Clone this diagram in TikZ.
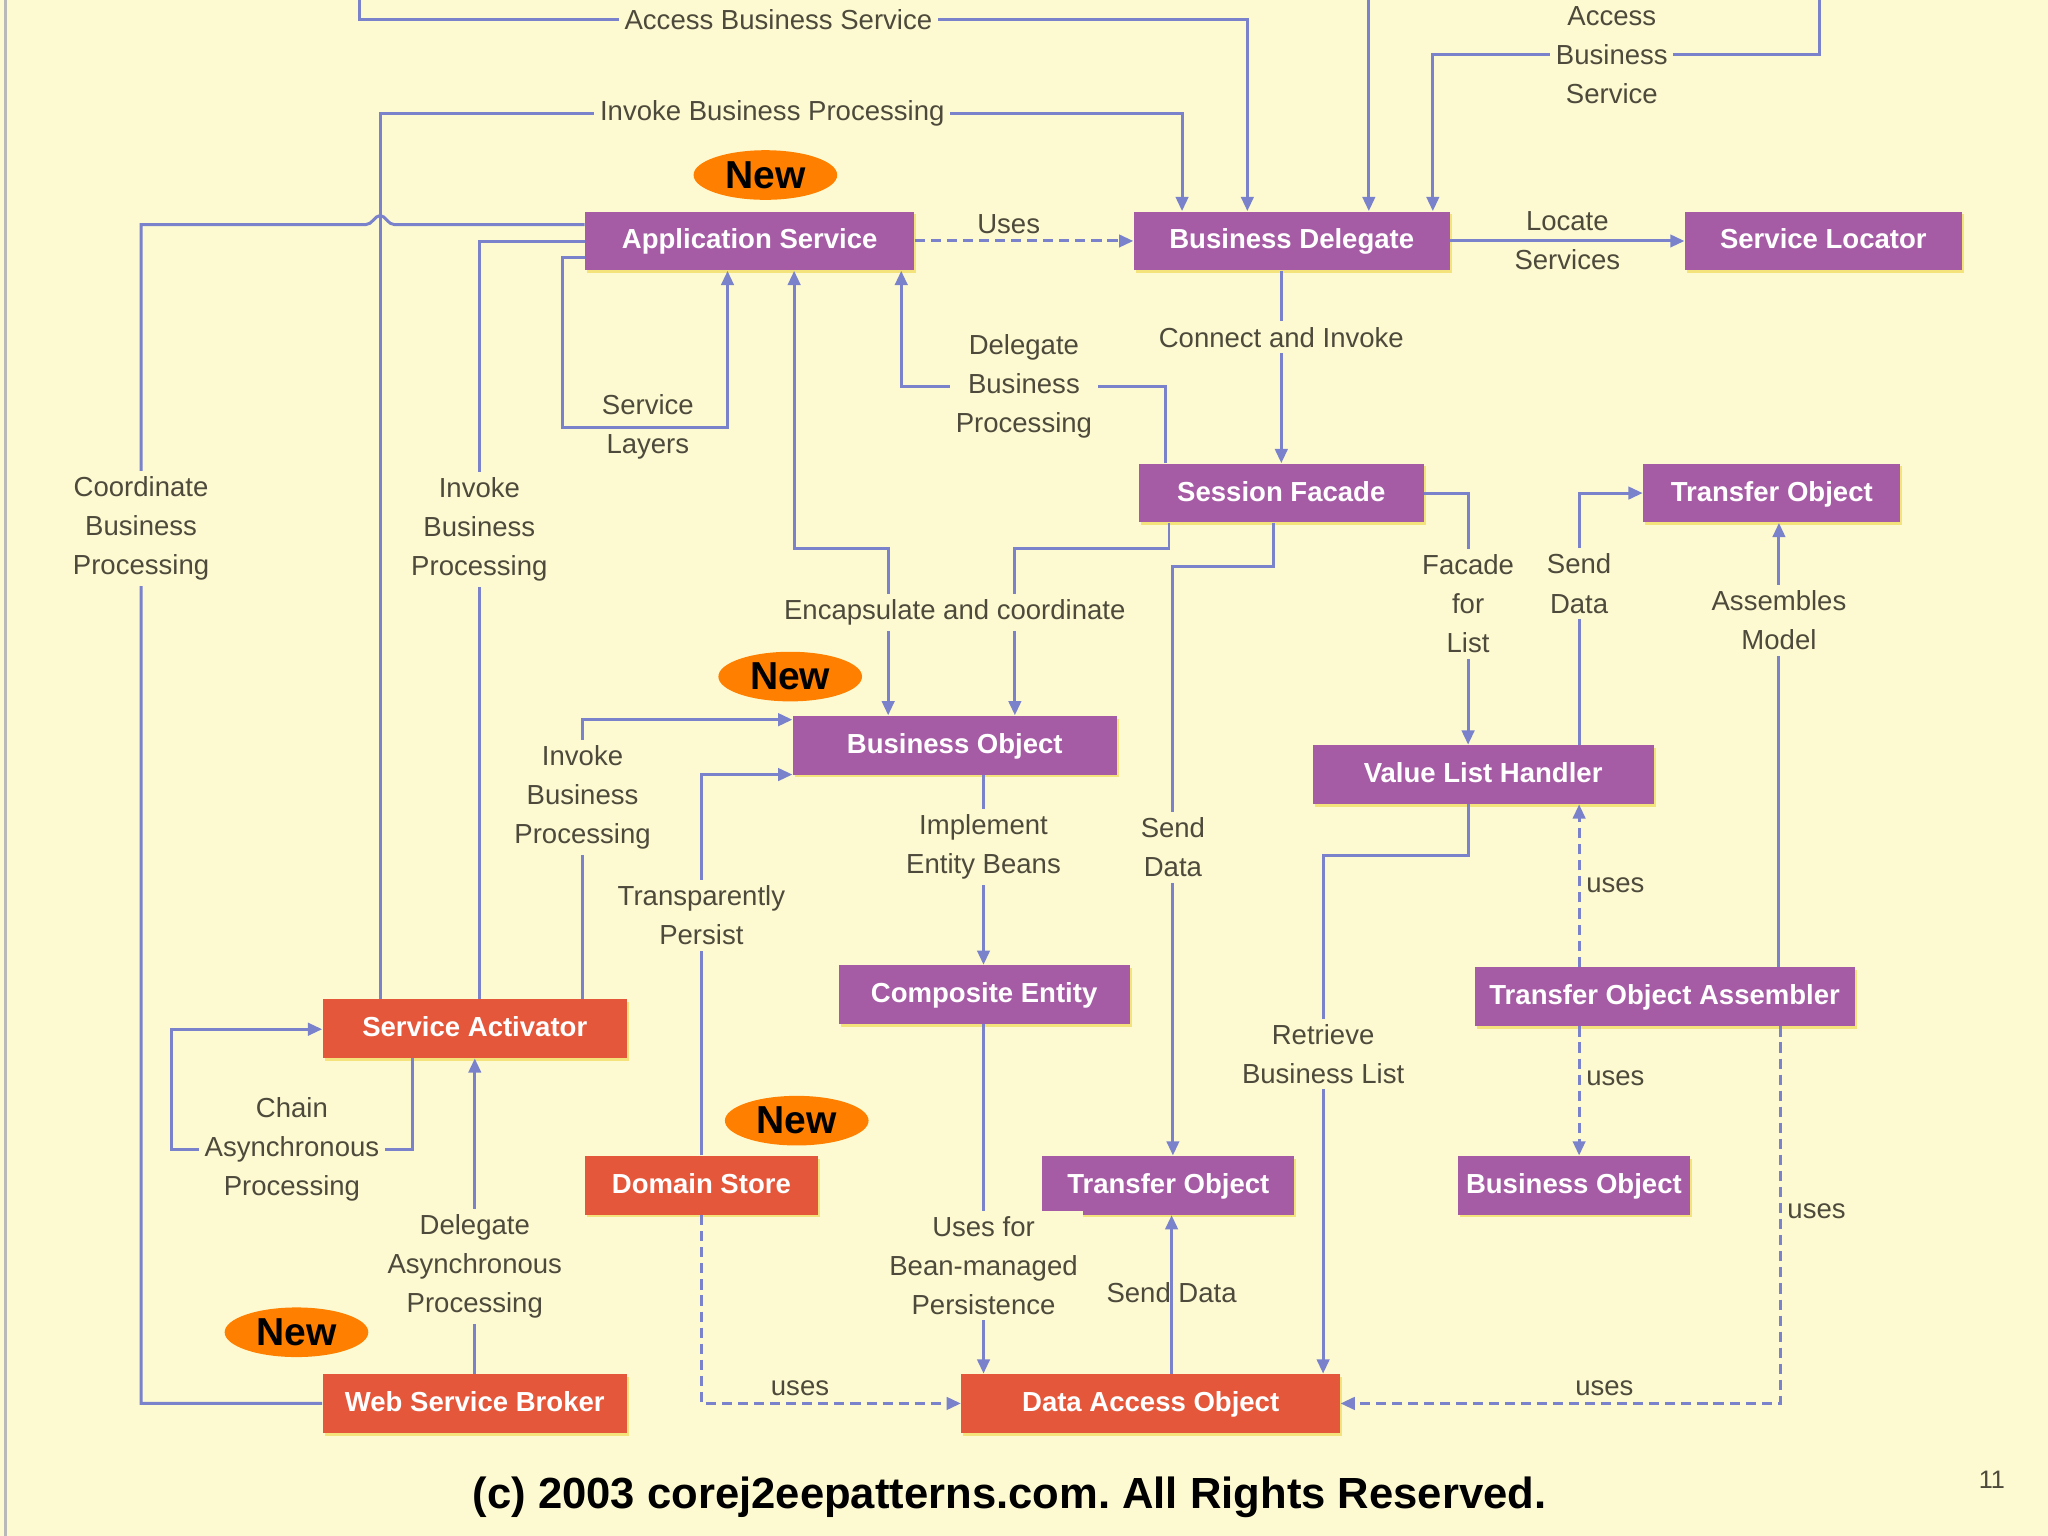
\documentclass[tikz,border=0pt]{standalone}
\usepackage{fontspec}
\setmainfont{Liberation Sans}
\usepackage{xcolor}
\usetikzlibrary{arrows.meta,positioning,shapes.geometric,shadows,calc}
\definecolor{paper}{HTML}{FDFAD2}
\definecolor{corepurple}{HTML}{A65BA5}
\definecolor{corered}{HTML}{E4573A}
\definecolor{linkblue}{HTML}{7A82CC}
\definecolor{neworange}{HTML}{FF8000}
\definecolor{textgray}{HTML}{4D4A3C}
\definecolor{glow}{HTML}{F4E27A}
\frenchspacing
\tikzset{
  pat/.style={rectangle, draw=none, fill=#1, text=white,
              minimum height=0.9cm, inner sep=0pt, text depth=0.06cm,
              font=\fontsize{12}{14}\selectfont\bfseries,
              drop shadow={shadow xshift=0.9pt, shadow yshift=-1.2pt, fill=glow, opacity=1}},
  link/.style={draw=linkblue, line width=1.3pt},
  arr/.style={link, -{Triangle[length=6.2pt,width=5.4pt]}},
  biarr/.style={link, {Triangle[length=6.2pt,width=5.4pt]}-{Triangle[length=6.2pt,width=5.4pt]}},
  usesarr/.style={arr, dash pattern=on 4.4pt off 2.6pt},
  lbl/.style={fill=paper, text=textgray, align=center, inner sep=2.5pt,
              font=\fontsize{12}{17}\selectfont},
  bare/.style={lbl, fill=none},
  newmark/.style={ellipse, fill=neworange, minimum width=2.2cm, minimum height=0.76cm,
                  inner sep=0pt, font=\fontsize{17}{17}\selectfont\bfseries},
}

\begin{document}
\begin{tikzpicture}[x=0.02cm, y=-0.02cm]
  \fill[paper] (0,0) rectangle (1568,1176);
  \useasboundingbox (0,0) rectangle (1568,1176);
  \draw[gray!55, line width=1.2pt] (4,0) -- (4,1176);

  % tier patterns
  \node[pat=corepurple, minimum width=5.04cm] (appsvc)    at (574,184.5)   {Application Service};
  \node[pat=corepurple, minimum width=4.84cm] (bizdel)    at (989,184.5)   {Business Delegate};
  \node[pat=corepurple, minimum width=4.24cm] (svcloc)    at (1396,184.5)  {Service Locator};
  \node[pat=corepurple, minimum width=4.36cm] (sessfac)   at (981,377.5)   {Session Facade};
  \node[pat=corepurple, minimum width=3.94cm] (xfer)      at (1356.5,377.5){Transfer Object};
  \node[pat=corepurple, minimum width=4.96cm] (bizobj)    at (731,570.5)   {Business Object};
  \node[pat=corepurple, minimum width=5.22cm] (vlh)       at (1135.5,593)  {Value List Handler};
  \node[pat=corepurple, minimum width=4.46cm] (compent)   at (753.5,761.5) {Composite Entity};
  \node[pat=corepurple, minimum width=5.82cm] (toa)       at (1274.5,763)  {Transfer Object Assembler};
  \node[pat=corered,    minimum width=4.66cm] (svcact)    at (363.5,787.5) {Service Activator};
  \node[pat=corered,    minimum width=3.56cm] (domstore)  at (537,907.5)   {Domain Store};
  \node[pat=corepurple, minimum width=3.86cm] (xferlow)   at (894.5,907.5) {Transfer Object};
  \node[pat=corepurple, minimum width=3.56cm] (bizobjlow) at (1205,907.5)  {Business Object};
  \node[pat=corered,    minimum width=4.66cm] (wsbroker)  at (363.5,1074.5){Web Service Broker};
  \node[pat=corered,    minimum width=5.80cm] (dao)       at (881,1074.5)  {Data Access Object};

  % new badges
  \node[newmark] (new1) at (586,134)  {New};
  \node[newmark] (new2) at (605,518)  {New};
  \node[newmark] (new3) at (610,858)  {New};
  \node[newmark] (new4) at (227,1020) {New};

  % clients off the top
  \coordinate (topA) at (275,0);
  \coordinate (topB) at (1048,0);
  \coordinate (topC) at (1393,0);

  \draw[arr] (topA) -- (275,15) -- node[lbl,pos=0.472] (l-abs1) {Access Business Service} (955,15) -- (955,0 |- bizdel.north);
  \draw[arr] (topB) -- (topB |- bizdel.north);
  \draw[arr] (topC) -- (1393,42) -- node[lbl,pos=0.537] (l-abs2) {Access\\Business\\Service} (1097,42) -- (1097,0 |- bizdel.north);
  \draw[arr] (291,0 |- svcact.north) -- (291,87) -- node[lbl,pos=0.489] (l-ibp1) {Invoke Business Processing} (905,87) -- (905,0 |- bizdel.north);

  \draw[usesarr] (appsvc.east) -- node[bare,above,pos=0.43] (l-uses1) {Uses} (bizdel.west);
  \draw[arr] (bizdel.east) -- node[bare] (l-locate) {Locate\\Services} (svcloc.west);
  \draw[arr] (sessfac.north |- bizdel.south) -- node[lbl,pos=0.345] (l-connect) {Connect and Invoke} (sessfac.north);
  \draw[arr] (892,0 |- sessfac.north) -- (892,296) -- node[lbl,pos=0.535] (l-dbp) {Delegate\\Business\\Processing} (690,296) -- (690,0 |- appsvc.south);
  \draw[arr] (appsvc.west |- 0,197) -- (431,197) -- (431,327) -- node[bare,pos=0.516] (l-layers) {Service\\Layers} (557,327) -- (557,0 |- appsvc.south);

  % coordinate line hops over the invoke line
  \draw[link] (wsbroker.west) -- (wsbroker.west -| 108,0) -- node[lbl,pos=0.742] (l-coord) {Coordinate\\Business\\Processing} (108,172) -- (280,172)
    .. controls (285,172) and (287,165) .. (291,165) .. controls (295,165) and (297,172) .. (302,172) -- (appsvc.west |- 0,172);
  \draw[link] (367,0 |- svcact.north) -- node[lbl,pos=0.62] (l-ibp2) {Invoke\\Business\\Processing} (367,185) -- (appsvc.west |- 0,185);

  \draw[biarr] (608,0 |- appsvc.south) -- (608,420) -- (680,420) -- (680,0 |- bizobj.north);
  \draw[arr] (895,0 |- sessfac.south) -- (895,420) -- (777,420) -- (777,0 |- bizobj.north);
  \node[lbl] (l-encap) at (731,469) {Encapsulate and coordinate};

  \draw[arr] (975,0 |- sessfac.south) -- (975,434) -- (898,434) -- node[lbl,pos=0.477] (l-send1) {Send\\Data} (898,0 |- xferlow.north);
  \draw[arr] (sessfac.east) -- (1124,377.5) -- node[lbl,pos=0.44] (l-facade) {Facade\\for\\List} (1124,0 |- vlh.north);
  \draw[arr] (1209,0 |- vlh.north) -- node[lbl,pos=0.64] (l-send2) {Send\\Data} (1209,377.5) -- (xfer.west);
  \draw[arr] (1362,0 |- toa.north) -- node[lbl,pos=0.78] (l-assem) {Assembles\\Model} (1362,0 |- xfer.south);
  \draw[usesarr] (1209,0 |- toa.north) -- node[bare,right] (l-uses2) {uses} (1209,0 |- vlh.south);
  \draw[arr] (1124,0 |- vlh.south) -- (1124,655) -- (1013,655) -- node[lbl,pos=0.383] (l-retr) {Retrieve\\Business List} (1013,0 |- dao.north);
  \draw[usesarr] (1209,0 |- toa.south) -- node[bare,right,pos=0.4] (l-uses3) {uses} (1209,0 |- bizobjlow.north);
  \draw[usesarr] (1363,0 |- toa.south) -- node[bare,right,pos=0.49] (l-uses4) {uses} (1363,1074.5) -- node[bare,above,pos=0.4] (l-uses5) {uses} (dao.east);

  \draw[arr] (753,0 |- bizobj.south) -- node[lbl,pos=0.38] (l-impl) {Implement\\Entity Beans} (753,0 |- compent.north);
  \draw[arr] (753,0 |- compent.south) -- node[lbl,pos=0.69] (l-bmp) {Uses for\\Bean-managed\\Persistence} (753,0 |- dao.north);
  \draw[arr] (897,0 |- dao.north) -- node[bare,pos=0.51] (l-send3) {Send Data} (897,0 |- xferlow.south);

  \draw[usesarr] (domstore.south) -- (domstore.south |- dao.west) -- node[bare,above,pos=0.38] (l-uses6) {uses} (dao.west);
  \draw[arr] (domstore.north) -- node[lbl,pos=0.63] (l-persist) {Transparently\\Persist} (537,593) -- (bizobj.west |- 0,593);
  \draw[arr] (446,0 |- svcact.north) -- node[lbl,pos=0.72] (l-ibp3) {Invoke\\Business\\Processing} (446,551) -- (bizobj.west |- 0,551);
  \draw[arr] (316,0 |- svcact.south) -- (316,880) -- node[lbl,pos=0.5] (l-chain) {Chain\\Asynchronous\\Processing} (131,880) -- (131,788) -- (svcact.west |- 0,788);
  \draw[arr] (wsbroker.north) -- node[lbl,pos=0.34] (l-dap) {Delegate\\Asynchronous\\Processing} (svcact.south);

  % footer
  \node[font=\fontsize{19}{19}\selectfont\bfseries] (copy) at (773,1146) {(c) 2003 corej2eepatterns.com. All Rights Reserved.};
  \node[font=\fontsize{11}{11}\selectfont, text=textgray] (pgno) at (1525,1133) {11};
\end{tikzpicture}
\end{document}
